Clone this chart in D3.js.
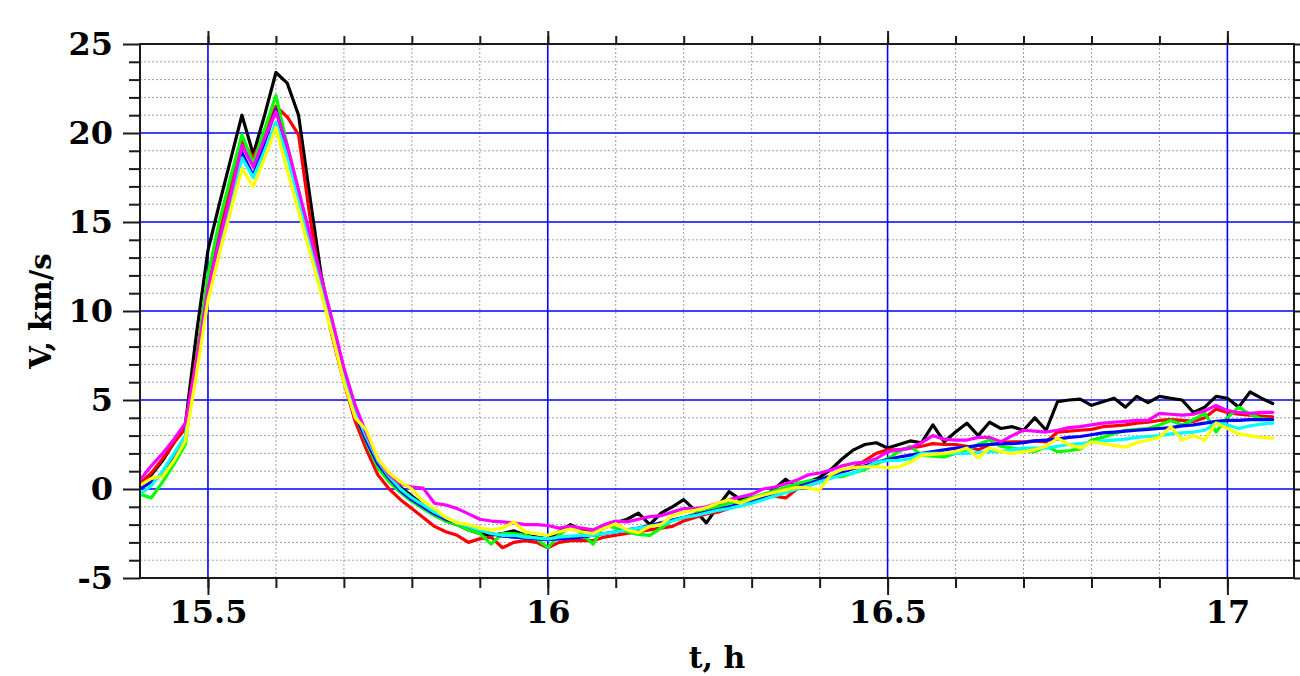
<!DOCTYPE html>
<html>
<head>
<meta charset="utf-8">
<script src="https://cdn.jsdelivr.net/npm/d3@7"></script>
<style>
  html, body { margin: 0; padding: 0; background: #ffffff; }
  svg { display: block; }
  .tick text { font-family: "DejaVu Serif", serif; font-weight: bold; font-size: 32px; fill: #000; }
</style>
</head>
<body>
<svg id="chart" width="1300" height="676"></svg>
<script>
// ---- data ----
// time in minutes of day (t, h = minutes / 60)
const minutes = [924,925,926,927,928,929,930,931,932,933,934,935,936,937,938,939,940,941,942,943,944,945,946,947,948,949,950,951,952,953,954,955,956,957,958,959,960,961,962,963,964,965,966,967,968,969,970,971,972,973,974,975,976,977,978,979,980,981,982,983,984,985,986,987,988,989,990,991,992,993,994,995,996,997,998,999,1000,1001,1002,1003,1004,1005,1006,1007,1008,1009,1010,1011,1012,1013,1014,1015,1016,1017,1018,1019,1020,1021,1022,1023,1024];

const vBlack = [0.2,0.8,1.6,2.6,3.6,8.8,13.4,16.0,18.5,21.0,18.8,21.0,23.4,22.8,21.0,16.4,12.0,9.0,6.4,4.3,2.7,1.3,0.6,0.1,-0.4,-0.9,-1.4,-1.8,-2.0,-2.3,-2.5,-2.6,-2.5,-2.35,-2.6,-2.7,-2.8,-2.4,-2.0,-2.3,-2.5,-2.2,-1.9,-1.7,-1.35,-2.0,-1.35,-1.0,-0.6,-1.2,-1.9,-1.0,-0.15,-0.6,-0.5,-0.45,0.0,0.55,0.1,0.4,0.65,1.1,1.7,2.2,2.5,2.6,2.3,2.5,2.7,2.6,3.6,2.65,3.2,3.7,3.0,3.75,3.4,3.5,3.3,4.0,3.3,4.9,5.0,5.05,4.7,4.9,5.1,4.6,5.2,4.85,5.2,5.1,5.0,4.3,4.6,5.2,5.1,4.6,5.45,5.1,4.8];

const vRed = [0.3,0.9,1.7,2.6,3.4,7.5,11.8,14.5,17.0,19.6,18.6,20.0,21.5,20.9,19.9,15.3,11.4,8.5,6.0,3.8,2.2,0.8,0.0,-0.6,-1.1,-1.6,-2.1,-2.4,-2.6,-3.0,-2.8,-2.7,-3.3,-3.0,-2.9,-3.0,-3.3,-3.0,-2.9,-2.9,-2.9,-2.7,-2.6,-2.5,-2.4,-2.3,-2.2,-2.1,-1.8,-1.6,-1.4,-1.3,-1.1,-0.9,-0.6,-0.45,-0.4,-0.5,0.0,0.2,0.4,0.7,1.0,1.2,1.6,2.0,2.2,2.2,2.3,2.4,2.55,2.5,2.5,2.4,2.2,2.5,2.6,2.65,2.65,2.7,2.65,3.2,3.25,3.3,3.35,3.5,3.55,3.6,3.7,3.75,3.85,3.9,3.85,3.8,4.0,4.5,4.3,4.2,4.15,4.1,4.05];

const vGreen = [-0.3,-0.5,0.4,1.4,2.5,7.3,12.0,15.0,17.5,19.9,18.3,20.2,22.1,19.3,16.7,14.1,11.6,8.9,6.3,4.2,2.6,1.2,0.4,-0.2,-0.7,-1.1,-1.5,-1.8,-2.0,-2.3,-2.5,-3.1,-2.5,-2.5,-2.6,-2.8,-3.3,-2.6,-2.1,-2.5,-3.1,-2.0,-2.2,-2.4,-2.55,-2.6,-2.2,-1.75,-1.6,-1.4,-1.2,-1.0,-0.8,-0.7,-0.5,-0.3,-0.1,0.1,0.3,0.45,0.5,0.7,0.7,0.9,1.1,1.4,1.7,2.1,2.4,1.9,1.85,1.8,2.0,2.2,2.5,2.75,2.4,2.3,2.2,2.1,2.4,2.1,2.15,2.25,2.75,2.9,3.1,3.3,3.35,3.4,3.6,3.85,3.6,3.9,4.25,3.2,4.0,4.6,4.2,3.95,3.9];

const vBlue = [0.0,0.4,0.8,1.8,2.9,7.0,11.0,14.0,16.4,18.9,17.6,19.5,21.3,19.0,16.5,14.0,11.6,9.0,6.4,4.2,2.7,1.4,0.6,-0.1,-0.6,-1.0,-1.4,-1.7,-1.9,-2.1,-2.3,-2.5,-2.65,-2.7,-2.75,-2.8,-2.85,-2.8,-2.75,-2.7,-2.6,-2.5,-2.4,-2.3,-2.2,-2.05,-1.9,-1.75,-1.6,-1.45,-1.3,-1.15,-1.0,-0.85,-0.7,-0.5,-0.3,-0.1,0.1,0.3,0.5,0.75,0.95,1.15,1.3,1.5,1.65,1.8,1.9,2.0,2.1,2.2,2.3,2.35,2.45,2.5,2.55,2.55,2.6,2.7,2.75,2.8,2.9,2.95,3.05,3.15,3.2,3.25,3.3,3.35,3.4,3.45,3.55,3.6,3.7,3.8,3.85,3.85,3.9,3.9,3.9];

const vCyan = [-0.3,0.2,1.0,2.0,3.0,6.9,10.9,13.7,16.1,18.6,17.5,19.0,20.6,18.7,16.3,13.9,11.5,9.0,6.5,4.4,2.9,1.6,0.7,0.0,-0.5,-0.9,-1.3,-1.6,-1.9,-2.1,-2.3,-2.5,-2.6,-2.6,-2.7,-2.75,-2.8,-2.7,-2.65,-2.6,-2.6,-2.5,-2.4,-2.3,-2.2,-2.1,-2.0,-1.8,-1.6,-1.5,-1.35,-1.2,-1.1,-0.95,-0.8,-0.6,-0.4,-0.2,0.0,0.2,0.4,0.6,0.8,0.9,1.2,1.5,1.6,1.6,1.7,2.0,2.0,2.0,2.0,2.0,2.05,2.1,2.1,2.2,2.3,2.3,2.3,2.4,2.5,2.55,2.6,2.7,2.75,2.8,2.9,2.95,3.0,3.1,3.15,3.2,3.3,3.7,3.6,3.4,3.55,3.65,3.7];

const vMagenta = [0.5,1.3,2.0,2.8,3.7,7.2,11.2,14.0,16.5,19.3,18.1,19.7,21.2,19.3,16.8,14.3,11.9,9.4,6.8,4.7,3.1,1.7,0.8,0.3,0.1,0.05,-0.8,-0.9,-1.1,-1.4,-1.7,-1.8,-1.85,-1.9,-2.0,-2.0,-2.05,-2.2,-2.1,-2.2,-2.3,-2.0,-1.8,-1.85,-1.7,-1.55,-1.5,-1.3,-1.1,-1.1,-1.0,-0.8,-0.6,-0.45,-0.3,0.0,0.1,0.3,0.5,0.8,0.9,1.07,1.3,1.45,1.5,1.7,2.1,2.2,2.3,2.6,3.0,2.8,2.75,2.75,2.9,2.9,2.65,3.0,3.3,3.25,3.2,3.3,3.45,3.5,3.6,3.7,3.75,3.8,3.85,3.85,4.25,4.2,4.15,4.2,4.4,4.7,4.4,4.3,4.25,4.3,4.3];

const vYellow = [0.2,0.6,0.7,1.6,2.7,6.5,10.6,13.2,15.6,18.0,17.0,18.6,20.3,17.9,15.6,13.3,11.0,8.6,6.0,4.0,3.3,1.7,0.9,0.4,0.0,-0.7,-1.1,-1.6,-1.9,-2.0,-2.2,-2.3,-2.2,-1.85,-2.4,-2.5,-2.6,-2.4,-2.25,-2.4,-2.5,-2.2,-1.95,-2.3,-2.45,-2.1,-2.0,-1.5,-1.3,-1.2,-1.05,-0.8,-0.6,-0.8,-0.55,-0.35,-0.2,-0.05,0.1,0.05,-0.05,0.8,1.1,1.2,1.25,1.25,1.2,1.25,1.5,1.9,1.95,2.0,2.1,2.3,1.75,2.3,2.1,2.0,2.1,2.2,2.4,2.85,2.5,2.3,2.65,2.55,2.45,2.35,2.6,2.75,2.9,3.5,2.75,3.0,2.75,3.7,3.4,3.1,3.0,2.9,2.85];

const seriesNames = ["black", "red", "green", "blue", "cyan", "magenta", "yellow"];
const seriesColors = ["#000000", "#ff0000", "#00ff00", "#0000ff", "#00ffff", "#ff00ff", "#ffff00"];
const seriesValues = [vBlack, vRed, vGreen, vBlue, vCyan, vMagenta, vYellow];

const xMajorTicks = [15.5, 16, 16.5, 17];
const xMinorTicks = [15.5, 15.6, 15.7, 15.8, 15.9, 16, 16.1, 16.2, 16.3, 16.4, 16.5, 16.6, 16.7, 16.8, 16.9, 17];
const xTickLabels = ["15.5", "16", "16.5", "17"];
const yMajorTicks = [-5, 0, 5, 10, 15, 20, 25];
const yTickLabels = ["-5", "0", "5", "10", "15", "20", "25"];
const yMinorTicks = [-4,-3,-2,-1,1,2,3,4,6,7,8,9,11,12,13,14,16,17,18,19,21,22,23,24];
const xDomain = [15.4, 17.098];
const yDomain = [-5, 25];
const xTitle = "t, h";
const yTitle = "V, km/s";

// ---- layout ----
const W = 1300, H = 676;
const L = 140, R = 1294, T = 44, B = 578;

const svg = d3.select("#chart");
const x = d3.scaleLinear().domain(xDomain).range([L, R]);
const y = d3.scaleLinear().domain(yDomain).range([B, T]);

// grid: dotted
const grid = svg.append("g");
grid.selectAll("line.hminor").data(yMinorTicks).join("line")
  .attr("x1", L).attr("x2", R)
  .attr("y1", d => y(d)).attr("y2", d => y(d))
  .attr("stroke", "#a0a0a0").attr("stroke-width", 1)
  .attr("stroke-dasharray", "2,2");
grid.selectAll("line.vminor").data(xMinorTicks.filter(d => !xMajorTicks.some(m => Math.abs(m - d) < 1e-6))).join("line")
  .attr("x1", d => x(d)).attr("x2", d => x(d))
  .attr("y1", T).attr("y2", B)
  .attr("stroke", "#a0a0a0").attr("stroke-width", 1)
  .attr("stroke-dasharray", "2,2");
// grid: blue major
grid.selectAll("line.hmajor").data(yMajorTicks.filter(d => d > yDomain[0] && d < yDomain[1])).join("line")
  .attr("x1", L).attr("x2", R)
  .attr("y1", d => y(d)).attr("y2", d => y(d))
  .attr("stroke", "#0000ff").attr("stroke-width", 1.6);
grid.selectAll("line.vmajor").data(xMajorTicks).join("line")
  .attr("x1", d => x(d)).attr("x2", d => x(d))
  .attr("y1", T).attr("y2", B)
  .attr("stroke", "#0000ff").attr("stroke-width", 1.6);

// data lines
svg.append("clipPath").attr("id", "plotclip")
  .append("rect").attr("x", L).attr("y", T).attr("width", R - L).attr("height", B - T);

const line = d3.line()
  .x((d, i) => x(minutes[i] / 60))
  .y(d => y(d));

const lines = svg.append("g").attr("clip-path", "url(#plotclip)");
seriesValues.forEach((vals, si) => {
  lines.append("path")
    .datum(vals)
    .attr("fill", "none")
    .attr("stroke", seriesColors[si])
    .attr("stroke-width", 3.2)
    .attr("stroke-linejoin", "round")
    .attr("stroke-linecap", "round")
    .attr("d", line);
});

// frame
svg.append("rect").attr("x", L).attr("y", T).attr("width", R - L).attr("height", B - T)
  .attr("fill", "none").attr("stroke", "#1a1a1a").attr("stroke-width", 2);

function styleAxis(g) {
  g.select(".domain").remove();
  g.selectAll(".tick line").attr("stroke", "#1a1a1a").attr("stroke-width", 2);
}

// bottom axis
svg.append("g").attr("transform", `translate(0,${B})`)
  .call(d3.axisBottom(x).tickValues(xMinorTicks).tickSize(10).tickFormat(""))
  .call(styleAxis);
svg.append("g").attr("transform", `translate(0,${B})`)
  .call(d3.axisBottom(x).tickValues(xMajorTicks).tickSize(17).tickPadding(5)
    .tickFormat((d, i) => xTickLabels[i]))
  .call(styleAxis);
// top axis
svg.append("g").attr("transform", `translate(0,${T})`)
  .call(d3.axisTop(x).tickValues(xMinorTicks).tickSize(8).tickFormat(""))
  .call(styleAxis);
svg.append("g").attr("transform", `translate(0,${T})`)
  .call(d3.axisTop(x).tickValues(xMajorTicks).tickSize(13).tickFormat(""))
  .call(styleAxis);
// left axis
svg.append("g").attr("transform", `translate(${L},0)`)
  .call(d3.axisLeft(y).tickValues(yMinorTicks).tickSize(11).tickFormat(""))
  .call(styleAxis);
svg.append("g").attr("transform", `translate(${L},0)`)
  .call(d3.axisLeft(y).tickValues(yMajorTicks).tickSize(17).tickPadding(10)
    .tickFormat((d, i) => yTickLabels[i]))
  .call(styleAxis);
// right axis
svg.append("g").attr("transform", `translate(${R},0)`)
  .call(d3.axisRight(y).tickValues(yMinorTicks).tickSize(7).tickFormat(""))
  .call(styleAxis);
svg.append("g").attr("transform", `translate(${R},0)`)
  .call(d3.axisRight(y).tickValues(yMajorTicks).tickSize(12).tickFormat(""))
  .call(styleAxis);

// titles
svg.append("text")
  .attr("x", (L + R) / 2).attr("y", 668)
  .attr("text-anchor", "middle")
  .attr("font-family", "DejaVu Serif, serif").attr("font-weight", "bold").attr("font-size", 30)
  .attr("fill", "#000")
  .text(xTitle);
svg.append("text")
  .attr("transform", `translate(51,${(T + B) / 2}) rotate(-90)`)
  .attr("text-anchor", "middle")
  .attr("font-family", "DejaVu Serif, serif").attr("font-weight", "bold").attr("font-size", 29)
  .attr("fill", "#000")
  .text(yTitle);
</script>
</body>
</html>
